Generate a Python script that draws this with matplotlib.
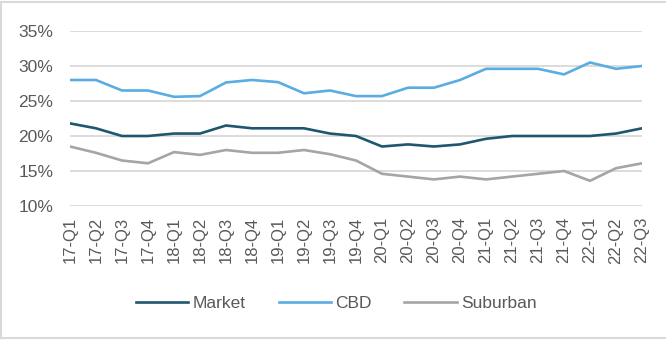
import matplotlib
matplotlib.use("Agg")
import matplotlib.pyplot as plt
from matplotlib.lines import Line2D

quarters = ["17-Q1", "17-Q2", "17-Q3", "17-Q4", "18-Q1", "18-Q2", "18-Q3", "18-Q4",
            "19-Q1", "19-Q2", "19-Q3", "19-Q4", "20-Q1", "20-Q2", "20-Q3", "20-Q4",
            "21-Q1", "21-Q2", "21-Q3", "21-Q4", "22-Q1", "22-Q2", "22-Q3"]

market = [21.8, 21.1, 20.0, 20.0, 20.35, 20.35, 21.5, 21.1,
          21.1, 21.1, 20.35, 20.0, 18.5, 18.8, 18.5, 18.8,
          19.6, 20.0, 20.0, 20.0, 20.0, 20.35, 21.1]

cbd = [28.0, 28.0, 26.5, 26.5, 25.6, 25.7, 27.65, 28.0,
       27.7, 26.1, 26.5, 25.7, 25.7, 26.9, 26.9, 28.0,
       29.6, 29.6, 29.6, 28.8, 30.5, 29.6, 30.0]

suburban = [18.5, 17.6, 16.5, 16.1, 17.7, 17.3, 18.0, 17.6,
            17.6, 18.0, 17.4, 16.5, 14.6, 14.2, 13.8, 14.2,
            13.8, 14.2, 14.6, 15.0, 13.6, 15.4, 16.1]

series_names = ["Market", "CBD", "Suburban"]
series_colors = ["#1F5670", "#5AADE2", "#A5A5A5"]
y_ticks = [10, 15, 20, 25, 30, 35]

plt.rcParams["font.family"] = ["Liberation Sans", "DejaVu Sans"]
text_color = "#595959"

fig = plt.figure(figsize=(6.66, 3.40), dpi=100)
ax = fig.add_axes([70 / 666, 1 - 206 / 340, (642 - 70) / 666, (206 - 31) / 340])

x = list(range(len(quarters)))
handles = []
for values, name, color in zip([market, cbd, suburban], series_names, series_colors):
    h, = ax.plot(x, values, color=color, lw=1.9, solid_joinstyle="round", label=name, zorder=3)
    handles.append(h)

ax.set_xlim(0, len(quarters) - 1)
ax.set_ylim(10, 35)
ax.set_yticks(y_ticks)
ax.set_yticklabels([f"{v}%" for v in y_ticks])
ax.set_xticks(x)
ax.set_xticklabels(quarters, rotation=90)

ax.grid(axis="y", color="#D9D9D9", lw=1.3, zorder=0)
ax.set_axisbelow(True)
for s in ax.spines.values():
    s.set_visible(False)
ax.tick_params(axis="y", length=0, pad=12, labelsize=12.5, labelcolor=text_color)
ax.tick_params(axis="x", length=0, pad=8, labelsize=12, labelcolor=text_color)

leg = fig.legend(handles=handles, labels=series_names, loc="center",
                 bbox_to_anchor=(0.505, 1 - 303 / 340), ncol=3, frameon=False,
                 fontsize=12.5, handlelength=3.0, handletextpad=0.25,
                 columnspacing=1.9, labelcolor=text_color)

# light frame around the chart area
border = "#D9D9D9"
fig.add_artist(Line2D([0.002, 1], [1 - 1.5 / 340] * 2, color=border, lw=1.5, transform=fig.transFigure))
fig.add_artist(Line2D([0.002, 0.002], [1 - 1.5 / 340, 2 / 340], color=border, lw=1.5, transform=fig.transFigure))
fig.add_artist(Line2D([0.002, 1], [2 / 340] * 2, color=border, lw=1.5, transform=fig.transFigure))

fig.savefig("out.png", dpi=100)
